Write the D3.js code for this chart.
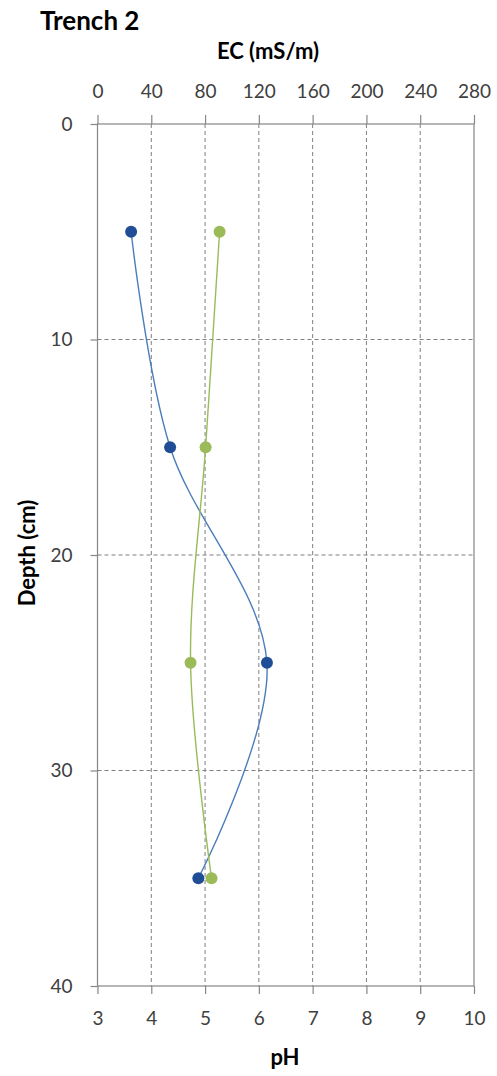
<!DOCTYPE html>
<html>
<head>
<meta charset="utf-8">
<script src="https://cdn.jsdelivr.net/npm/d3@7"></script>
<style>
  body { margin: 0; background: #fff; }
  text { font-family: Lato, "Open Sans", sans-serif; }
</style>
</head>
<body>
<svg id="chart"></svg>
<script>
// data
const depths = [5, 15, 25, 35];
const ecValues = [25, 54, 126, 75];        // mS/m, top axis
const phValues = [5.27, 5.01, 4.73, 5.12]; // bottom axis
const ecTicks = [0, 40, 80, 120, 160, 200, 240, 280];
const phTicks = [3, 4, 5, 6, 7, 8, 9, 10];
const depthTicks = [0, 10, 20, 30, 40];

const W = 497, H = 1076;
const m = { left: 97.5, right: 474, top: 124, bottom: 986 };

const svg = d3.select('#chart').attr('width', W).attr('height', H);

const yDepth = d3.scaleLinear().domain([0, 40]).range([m.top, m.bottom]);
const xEC = d3.scaleLinear().domain([0, 280]).range([m.left, m.right]);
const xPH = d3.scaleLinear().domain([3, 10]).range([m.left, m.right]);

const axisCol = '#868686';
const textCol = '#404040';

// grid
const grid = svg.append('g').attr('class', 'grid');
grid.selectAll('line.v').data(phTicks.slice(1, -1)).enter().append('line')
  .attr('x1', d => xPH(d)).attr('x2', d => xPH(d))
  .attr('y1', m.top).attr('y2', m.bottom)
  .attr('stroke', '#7f7f7f').attr('stroke-width', 1).attr('stroke-dasharray', '4,3');
grid.selectAll('line.h').data(depthTicks.slice(1, -1)).enter().append('line')
  .attr('y1', d => yDepth(d)).attr('y2', d => yDepth(d))
  .attr('x1', m.left).attr('x2', m.right)
  .attr('stroke', '#7f7f7f').attr('stroke-width', 1).attr('stroke-dasharray', '4,3');

// frame
svg.append('rect')
  .attr('x', m.left).attr('y', m.top)
  .attr('width', m.right - m.left).attr('height', m.bottom - m.top)
  .attr('fill', 'none').attr('stroke', axisCol).attr('stroke-width', 1.2);

function styleAxis(g) {
  g.select('.domain').remove();
  g.selectAll('.tick line').attr('stroke', axisCol).attr('stroke-width', 1.2);
  g.selectAll('.tick text').attr('fill', textCol).style('font-size', '19px');
}

svg.append('g').attr('transform', `translate(0,${m.top})`)
  .call(d3.axisTop(xEC).tickValues(ecTicks).tickSizeOuter(0).tickSize(9).tickPadding(17))
  .call(styleAxis);

svg.append('g').attr('transform', `translate(0,${m.bottom})`)
  .call(d3.axisBottom(xPH).tickValues(phTicks).tickFormat(d3.format('d'))
    .tickSizeOuter(0).tickSize(8).tickPadding(18))
  .call(styleAxis);

svg.append('g').attr('transform', `translate(${m.left},0)`)
  .call(d3.axisLeft(yDepth).tickValues(depthTicks).tickSizeOuter(0).tickSize(7).tickPadding(18))
  .call(styleAxis);

// titles
svg.append('text').attr('x', 40).attr('y', 30)
  .style('font-size', '26px').style('font-weight', 'bold').attr('fill', '#000')
  .text('Trench 2');
svg.append('text').attr('x', 268).attr('y', 59).attr('text-anchor', 'middle')
  .style('font-size', '22px').style('font-weight', 'bold').attr('fill', '#000')
  .text('EC (mS/m)');
svg.append('text').attr('x', 285).attr('y', 1065).attr('text-anchor', 'middle')
  .style('font-size', '22px').style('font-weight', 'bold').attr('fill', '#000')
  .text('pH');
svg.append('text')
  .attr('transform', `translate(35,553) rotate(-90)`).attr('text-anchor', 'middle')
  .style('font-size', '22px').style('font-weight', 'bold').attr('fill', '#000')
  .text('Depth (cm)');

// series
const ecData = depths.map((d, i) => ({ depth: d, v: ecValues[i] }));
const phData = depths.map((d, i) => ({ depth: d, v: phValues[i] }));

const curve = d3.curveCatmullRom.alpha(0);

const ecLine = d3.line().x(d => xEC(d.v)).y(d => yDepth(d.depth)).curve(curve);
const phLine = d3.line().x(d => xPH(d.v)).y(d => yDepth(d.depth)).curve(curve);

svg.append('path').datum(ecData).attr('d', ecLine)
  .attr('fill', 'none').attr('stroke', '#4a7ebb').attr('stroke-width', 1.4);
svg.append('path').datum(phData).attr('d', phLine)
  .attr('fill', 'none').attr('stroke', '#9bbb59').attr('stroke-width', 1.4);

svg.append('g').selectAll('circle').data(ecData).enter().append('circle')
  .attr('cx', d => xEC(d.v)).attr('cy', d => yDepth(d.depth)).attr('r', 6)
  .attr('fill', '#1f4e96');
svg.append('g').selectAll('circle').data(phData).enter().append('circle')
  .attr('cx', d => xPH(d.v)).attr('cy', d => yDepth(d.depth)).attr('r', 6)
  .attr('fill', '#9bbb59');
</script>
</body>
</html>
